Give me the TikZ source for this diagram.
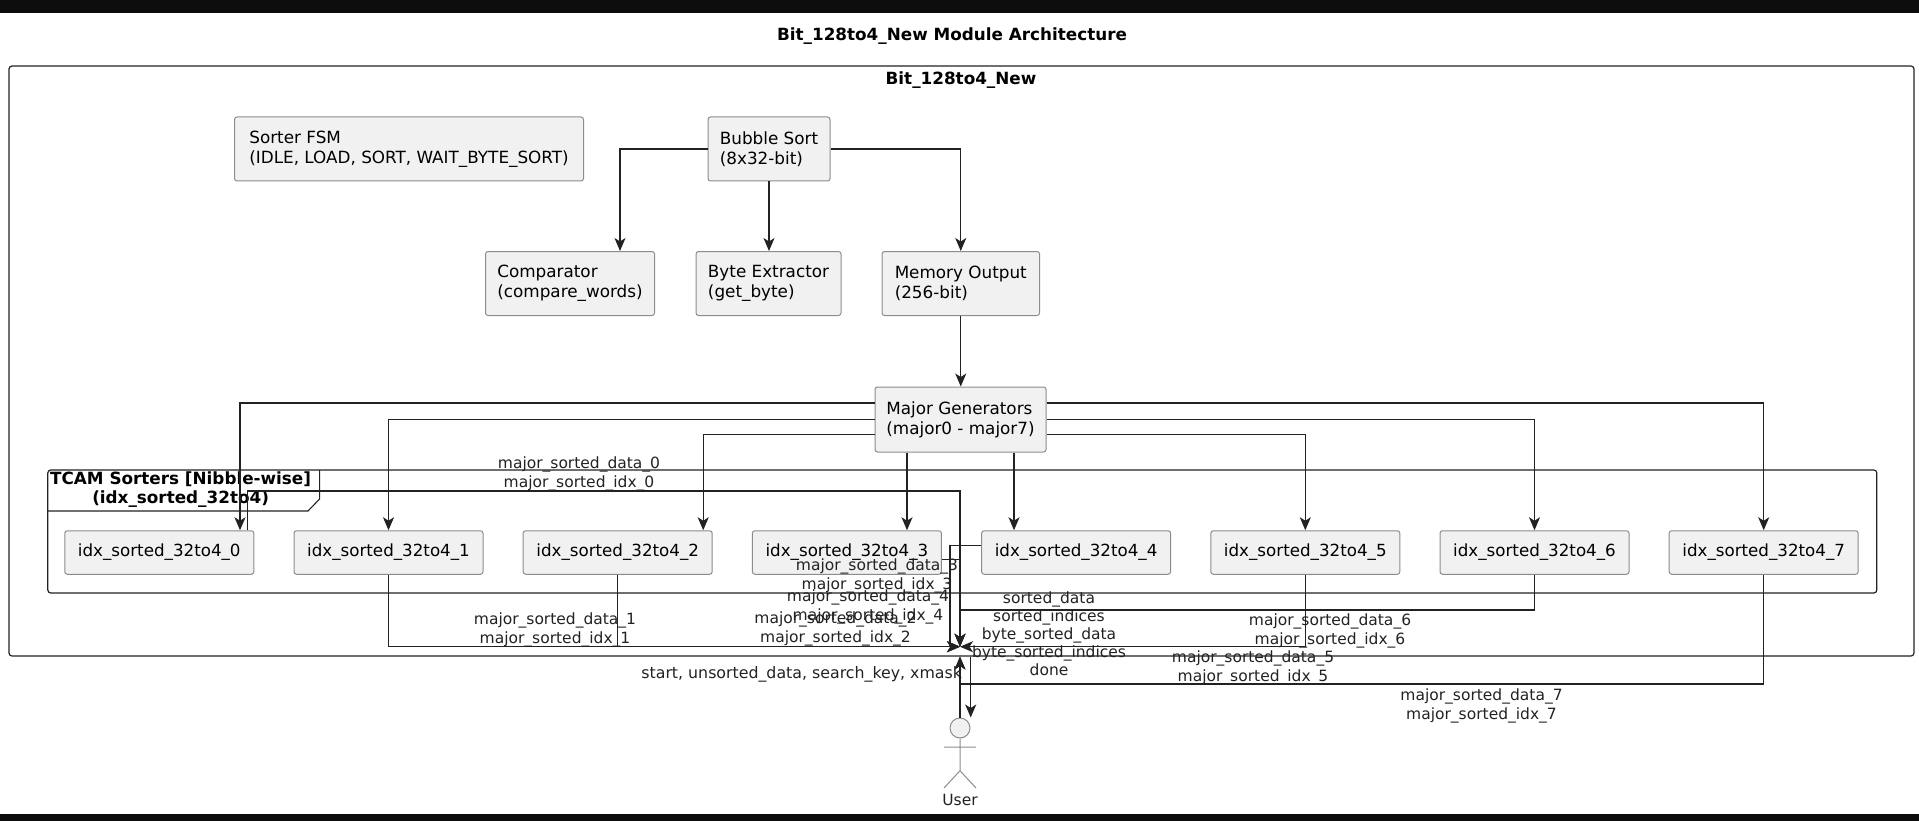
\documentclass[tikz,border=0pt]{standalone}
\usepackage{fontspec}
\setmainfont{DejaVu Sans}
\usetikzlibrary{arrows.meta,positioning,calc}

\definecolor{boxfill}{HTML}{F1F1F1}
\definecolor{boxline}{HTML}{8C8C8C}
\definecolor{wire}{HTML}{222222}
\definecolor{barcol}{HTML}{0D0D0D}

\begin{document}
\begin{tikzpicture}[
  x=1pt, y=-1pt,
  box/.style={draw=boxline, fill=boxfill, line width=1pt, rounded corners=2.5pt, align=left, inner sep=0pt, minimum height=64pt, font=\fontsize{16.8}{20}\selectfont},
  sorter/.style={draw=boxline, fill=boxfill, line width=1pt, rounded corners=2.5pt, align=center, inner sep=0pt, minimum width=189pt, minimum height=43.5pt, font=\fontsize{16.7}{19}\selectfont},
  group/.style={draw=wire, line width=1.2pt, rounded corners=3pt, inner sep=0pt},
  flow/.style={-{Stealth[length=13pt,width=11pt,inset=3.5pt]}, draw=wire, line width=1.1pt},
  note/.style={align=center, inner sep=0pt, text=wire, font=\fontsize{15.5}{19}\selectfont},
  head/.style={align=center, inner sep=0pt, text=black, font=\fontsize{16.8}{19}\selectfont\bfseries}
]
\useasboundingbox (0,0) rectangle (1919,821);

\fill[barcol] (0,0) rectangle (1919,13);
\fill[barcol] (0,814) rectangle (1919,821);

\node[head] (title) at (952,36) {Bit\_128to4\_New Module Architecture};

% containers
\node[group, minimum width=1905pt, minimum height=590pt] (bitmod) at (961.5,361) {};
\node[head] (bitname) at (961,80) {Bit\_128to4\_New};
\node[group, minimum width=1829pt, minimum height=123pt] (tcam) at (962.3,531.5) {};
\draw[draw=wire, line width=1.1pt] (47.8,511) -- (308,511) -- (319.6,499) -- (319.6,470);
\node[head] (tcamname) at (180.6,490) {TCAM Sorters [Nibble-wise]\\(idx\_sorted\_32to4)};

% upper blocks
\node[box, minimum width=349pt] (fsm) at (409,149) {Sorter FSM\\(IDLE, LOAD, SORT, WAIT\_BYTE\_SORT)};
\node[box, minimum width=122pt] (bubble) at (769,149) {Bubble Sort\\(8x32-bit)};
\node[box, minimum width=169pt] (cmp) at (570,283.5) {Comparator\\(compare\_words)};
\node[box, minimum width=145pt] (byteex) at (768.5,283.5) {Byte Extractor\\(get\_byte)};
\node[box, minimum width=157.5pt] (memout) at (960.75,283.5) {Memory Output\\(256-bit)};
\node[box, minimum width=171pt, minimum height=65pt] (major) at (960.5,419.5) {Major Generators\\(major0 - major7)};

% sorter row
\node[sorter] (idx0) at (159.3,552.5) {idx\_sorted\_32to4\_0};
\node[sorter, right=39.2pt of idx0] (idx1) {idx\_sorted\_32to4\_1};
\node[sorter, right=39.2pt of idx1] (idx2) {idx\_sorted\_32to4\_2};
\node[sorter, right=39.2pt of idx2] (idx3) {idx\_sorted\_32to4\_3};
\node[sorter, right=39.2pt of idx3] (idx4) {idx\_sorted\_32to4\_4};
\node[sorter, right=39.2pt of idx4] (idx5) {idx\_sorted\_32to4\_5};
\node[sorter, right=39.2pt of idx5] (idx6) {idx\_sorted\_32to4\_6};
\node[sorter, right=39.2pt of idx6] (idx7) {idx\_sorted\_32to4\_7};

% user
\node[circle, draw=boxline, fill=boxfill, line width=1pt, minimum size=20pt, inner sep=0pt] (userhead) at (960,728) {};
\coordinate (arml) at (944,747);
\coordinate (armr) at (976,747);
\coordinate (hip) at (960,770.7);
\coordinate (legl) at (944,788);
\coordinate (legr) at (976,788);
\draw[draw=boxline, line width=1pt] (userhead.south) -- (hip) (arml) -- (armr) (legl) -- (hip) -- (legr);
\node[note] (username) at (960,800) {User};

\coordinate (hub) at (960,646.7);
\coordinate (majl) at ($(major.south)+(-53.5,0)$);
\coordinate (majr) at ($(major.south)+(53.5,0)$);

% block links
\draw[flow] (bubble.west) -| ($(cmp.north)+(50,0)$);
\draw[flow] (bubble.south) -- (bubble.south |- byteex.north);
\draw[flow] (bubble.east) -| (memout.north);
\draw[flow] (memout.south) -- (memout.south |- major.north);

% generators to sorters
\draw[flow] ($(major.west)+(0,-16.5)$) -| ($(idx0.north)+(80.7,0)$);
\draw[flow] (major.west) -| (idx1.north);
\draw[flow] ($(major.west)+(0,15)$) -| ($(idx2.north)+(85.5,0)$);
\draw[flow] (majl) -- (majl |- idx3.north);
\draw[flow] (majr) -- (majr |- idx4.north);
\draw[flow] ($(major.east)+(0,15)$) -| (idx5.north);
\draw[flow] (major.east) -| (idx6.north);
\draw[flow] ($(major.east)+(0,-16.5)$) -| (idx7.north);

% sorters back to the module
\draw[flow] ($(idx0.north)+(88.5,0)$) |- ($(hub)+(0,-155.7)$) -- (hub);
\draw[flow] (idx1.south) |- (hub);
\draw[flow] (idx2.south) |- (hub);
\draw[flow] ($(idx3.east)+(0,7)$) -| (hub);
\draw[flow] ($(idx4.west)+(0,-7)$) -| ($(hub)+(-10,0)$) -- (hub);
\draw[flow] (idx5.south) |- (hub);
\draw[flow] (idx6.south) |- ($(hub)+(0,-36.7)$) -- (hub);
\draw[flow] (idx7.south) |- ($(hub)+(0,37.3)$) -- (userhead.north |- bitmod.south);

% user links
\draw[flow] (userhead.north) -- (userhead.north |- bitmod.south);
\draw[flow] ($(userhead.north |- bitmod.south)+(10.7,0)$) -- ($(userhead.north)+(10.7,0)$);

% labels
\node[note] (lab0) at (579,474) {major\_sorted\_data\_0\\major\_sorted\_idx\_0};
\node[note] (lab1) at (555,630) {major\_sorted\_data\_1\\major\_sorted\_idx\_1};
\node[note] (lab2) at (835.5,628.5) {major\_sorted\_data\_2\\major\_sorted\_idx\_2};
\node[note] (lab3) at (877,575.5) {major\_sorted\_data\_3\\major\_sorted\_idx\_3};
\node[note] (lab4) at (868,607) {major\_sorted\_data\_4\\major\_sorted\_idx\_4};
\node[note] (lab5) at (1253,668.3) {major\_sorted\_data\_5\\major\_sorted\_idx\_5};
\node[note] (lab6) at (1330,631) {major\_sorted\_data\_6\\major\_sorted\_idx\_6};
\node[note] (lab7) at (1481.5,705.5) {major\_sorted\_data\_7\\major\_sorted\_idx\_7};
\node[note] (labout) at (1049,634) {sorted\_data\\[-1pt]sorted\_indices\\[-1pt]byte\_sorted\_data\\[-1pt]byte\_sorted\_indices\\[-1pt]done};
\node[note, font=\fontsize{15.8}{19}\selectfont] (labin) at (801.7,674) {start, unsorted\_data, search\_key, xmask};

\end{tikzpicture}
\end{document}
